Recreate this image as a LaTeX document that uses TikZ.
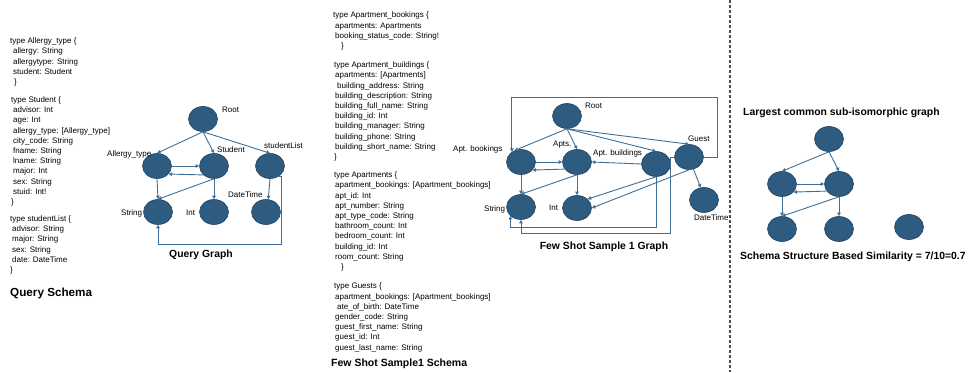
\documentclass[tikz,border=0pt]{standalone}
\usepackage{fontspec}
\setmainfont{Liberation Sans}
\usetikzlibrary{shapes.geometric,arrows.meta}

\definecolor{nodeblue}{HTML}{2E5C80}
\definecolor{rimblue}{HTML}{1F4260}
\definecolor{linkblue}{HTML}{3F6F97}

\tikzset{
  vertex/.style={ellipse, draw=rimblue, line width=0.6pt, fill=nodeblue,
    minimum width=29pt, minimum height=25pt, inner sep=0pt},
  link/.style={draw=linkblue, line width=0.9pt,
    -{Triangle[length=3.5pt,width=3.5pt]}},
  % multi-line blocks sit on the baseline of their last line
  schema/.style={anchor=base west, align=left, inner sep=0pt,
    font=\fontsize{8}{10.2}\selectfont},
  lbl/.style={anchor=base west, inner sep=0pt, font=\fontsize{8}{9}\selectfont},
  heading/.style={anchor=base west, inner sep=0pt,
    font=\bfseries\fontsize{10.4}{12}\selectfont},
}

\begin{document}
\begin{tikzpicture}[x=1pt, y=-1pt]
  \useasboundingbox (0,0) rectangle (968,372);

  % query schema
  \node [schema] (qallergytxt) at (10,84.5) {type Allergy\_type \{\\
    \hspace*{3pt}allergy: String\\
    \hspace*{3pt}allergytype: String\\
    \hspace*{3pt}student: Student\\
    \hspace*{4pt}\}};
  \node [schema] (qstudenttxt) at (11,204.5) {type Student \{\\
    \hspace*{2pt}advisor: Int\\
    \hspace*{2pt}age: Int\\
    \hspace*{2pt}allergy\_type: [Allergy\_type]\\
    \hspace*{2pt}city\_code: String\\
    \hspace*{2pt}fname: String\\
    \hspace*{2pt}lname: String\\
    \hspace*{2pt}major: Int\\
    \hspace*{2pt}sex: String\\
    \hspace*{2pt}stuid: Int!\\
    \}};
  \node [schema] (qlisttxt) at (10,272.5) {type studentList \{\\
    \hspace*{2pt}advisor: String\\
    \hspace*{2pt}major: String\\
    \hspace*{2pt}sex: String\\
    \hspace*{2pt}date: DateTime\\
    \}};
  \node [heading, font=\bfseries\fontsize{11.7}{13}\selectfont] (qschema) at (10,296) {Query Schema};

  % query graph
  \node [vertex] (qroot) at (203,119) {};
  \node [vertex] (qallergy) at (157,166) {};
  \node [vertex] (qstudent) at (214,166) {};
  \node [vertex] (qlist) at (270,166) {};
  \node [vertex] (qstring) at (158,212) {};
  \node [vertex] (qint) at (214,212) {};
  \node [vertex] (qdate) at (266,212) {};

  \draw [link] (qroot.south) -- (qallergy.north);
  \draw [link] (qroot.south) -- (qstudent.north);
  \draw [link] (qroot.south) -- (qlist.north);
  \draw [link] (qallergy.east) -- (qstudent.west);
  \draw [link] (qstudent.-140) -- (qallergy.-35);
  \draw [link] (qallergy.south) -- (qstring.north);
  \draw [link] (qstudent.south) -- (qstring.north);
  \draw [link] (qstudent.south) -- (qint.north);
  \draw [link] (qlist.south) -- (qdate.80);
  \draw [link] (qlist.-50) -| ++(3,68) -| (qstring.south);

  \node [lbl] (qrootlbl) at (222,112) {Root};
  \node [lbl] (qallergylbl) at (107,156) {Allergy\_type};
  \node [lbl] (qstudentlbl) at (217,152) {Student};
  \node [lbl] (qlistlbl) at (264,148) {studentList};
  \node [lbl] (qdatelbl) at (228,197) {DateTime};
  \node [lbl] (qstringlbl) at (121,215.5) {String};
  \node [lbl] (qintlbl) at (186,215) {Int};
  \node [heading, anchor=base] (qgraph) at (201,257.5) {Query Graph};

  % few shot schema
  \node [schema] (fbooktxt) at (333,48.5) {type Apartment\_bookings \{\\
    \hspace*{2pt}apartments: Apartments\\
    \hspace*{2pt}booking\_status\_code: String!\\
    \hspace*{8pt}\}};
  \node [schema] (fbuildtxt) at (334,159.5) {type Apartment\_buildings \{\\
    \hspace*{1pt}apartments: [Apartments]\\
    \hspace*{3pt}building\_address: String\\
    \hspace*{1pt}building\_description: String\\
    \hspace*{1pt}building\_full\_name: String\\
    \hspace*{1pt}building\_id: Int\\
    \hspace*{1pt}building\_manager: String\\
    \hspace*{1pt}building\_phone: String\\
    \hspace*{1pt}building\_short\_name: String\\
    \}};
  \node [schema] (faptstxt) at (334,269.5) {type Apartments \{\\
    \hspace*{1pt}apartment\_bookings: [Apartment\_bookings]\\
    \hspace*{1pt}apt\_id: Int\\
    \hspace*{1pt}apt\_number: String\\
    \hspace*{1pt}apt\_type\_code: String\\
    \hspace*{1pt}bathroom\_count: Int\\
    \hspace*{1pt}bedroom\_count: Int\\
    \hspace*{1pt}building\_id: Int\\
    \hspace*{1pt}room\_count: String\\
    \hspace*{7pt}\}};
  \node [schema] (fguesttxt) at (334,350) {type Guests \{\\
    \hspace*{1pt}apartment\_bookings: [Apartment\_bookings]\\
    \hspace*{3pt}ate\_of\_birth: DateTime\\
    \hspace*{1pt}gender\_code: String\\
    \hspace*{1pt}guest\_first\_name: String\\
    \hspace*{1pt}guest\_id: Int\\
    \hspace*{1pt}guest\_last\_name: String};
  \node [heading, font=\bfseries\fontsize{10.5}{12}\selectfont] (fschema) at (331,366) {Few Shot Sample1 Schema};

  % few shot graph
  \node [vertex] (froot) at (567,116) {};
  \node [vertex] (fbook) at (521,162) {};
  \node [vertex] (fapts) at (577,162) {};
  \node [vertex] (fbuild) at (656,164) {};
  \node [vertex] (fguest) at (689,157) {};
  \node [vertex] (fstring) at (521,207) {};
  \node [vertex] (fint) at (577,208) {};
  \node [vertex] (fdate) at (704,200) {};

  \draw [link] (froot.south) -- (fbook.120);
  \draw [link] (froot.south) -- (fapts.north);
  \draw [link] (froot.south) -- (fbuild.north);
  \draw [link] (froot.south) -- (fguest.north);
  \draw [link] (fbook.east) -- (fapts.west);
  \draw [link] (fapts.-150) -- (fbook.-35);
  \draw [link] (fbook.south) -- (fstring.north);
  \draw [link] (fapts.south) -- (fstring.north);
  \draw [link] (fapts.south) -- (fint.north);
  \draw [link] (fbuild.west) -- (fapts.east);
  \draw [link] (fbuild.south) -- (fint.40);
  \draw [link] (fguest.south) -- (fint.east);
  \draw [link] (fguest.-70) -- (fdate.105);
  \draw [link] (fguest.east) -| ++(14,-60) -| (fbook.132);
  \draw [link] (fbuild.south) -- ++(0,51) -| (fstring.-140);
  \draw [link] (fguest.west) -| ++(-3.5,76) -| (fstring.south);

  \node [lbl] (frootlbl) at (585,108) {Root};
  \node [lbl] (fbooklbl) at (453,151) {Apt. bookings};
  \node [lbl] (faptslbl) at (553,146) {Apts.};
  \node [lbl] (fbuildlbl) at (593,155) {Apt. buildings};
  \node [lbl] (fguestlbl) at (688,141) {Guest};
  \node [lbl] (fstringlbl) at (484,211) {String};
  \node [lbl] (fintlbl) at (549,210) {Int};
  \node [lbl] (fdatelbl) at (694,220) {DateTime};
  \node [heading, anchor=base] (fgraph) at (604,249.5) {Few Shot Sample 1 Graph};

  % divider
  \draw [gray!60!black, line width=1.1pt, dash pattern=on 3pt off 2pt] (730,0) -- (730,372);

  % common sub-graph
  \node [heading] (ctitle) at (743,115.5) {Largest common sub-isomorphic graph};
  \node [vertex] (ctop) at (829,139) {};
  \node [vertex] (cleft) at (782,184) {};
  \node [vertex] (cright) at (839,184) {};
  \node [vertex] (cbotleft) at (782,229) {};
  \node [vertex] (cbotmid) at (839,229) {};
  \node [vertex] (cbotright) at (909,227) {};

  \draw [link] (ctop.south) -- (cleft.north);
  \draw [link] (ctop.south) -- (cright.north);
  \draw [link] (cleft.east) -- (cright.west);
  \draw [link] (cright.-150) -- (cleft.-35);
  \draw [link] (cleft.south) -- (cbotleft.north);
  \draw [link] (cright.south) -- (cbotleft.north);
  \draw [link] (cright.south) -- (cbotmid.north);

  \node [heading] (cscore) at (740,259.5) {Schema Structure Based Similarity = 7/10=0.7};
\end{tikzpicture}
\end{document}
